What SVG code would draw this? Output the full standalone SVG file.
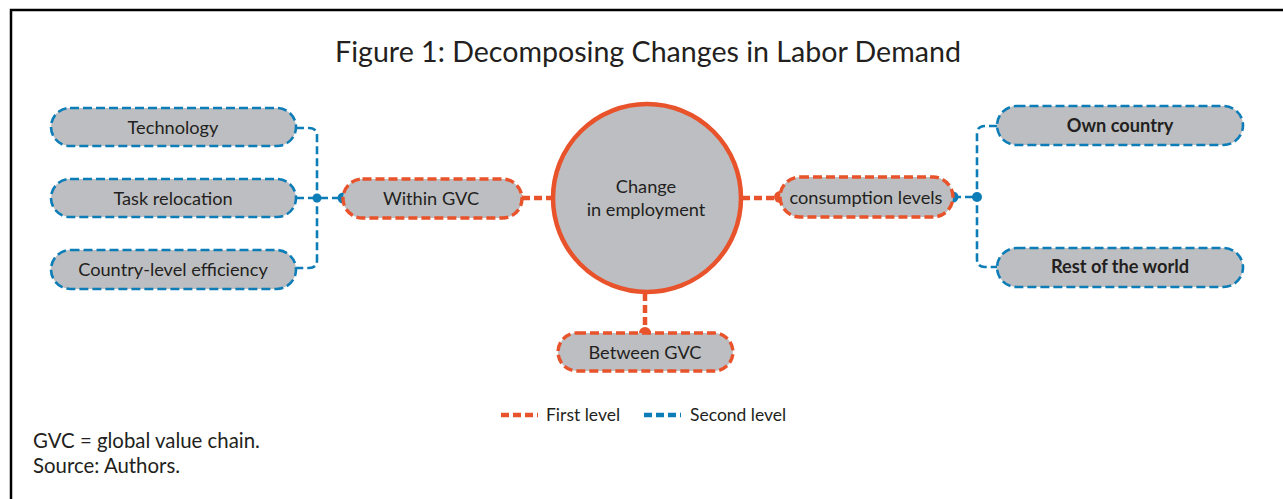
<svg xmlns="http://www.w3.org/2000/svg" width="1283" height="499" viewBox="0 0 1283 499">
<style>
text{font-family:Lato,"Open Sans","Liberation Sans",sans-serif;fill:#231F20}
.pill{fill:#BDBEC1;stroke-dasharray:9 4}
.o{stroke:#E8532B;stroke-width:3.4}
.b{stroke:#0D7DB8;stroke-width:2.6}
.lbl{font-size:18.2px;text-anchor:middle}
.bold{font-weight:bold}
.con{fill:none;stroke-dasharray:8 4}
.oc{stroke:#E8532B;stroke-width:4.5}
.bc{stroke:#0D7DB8;stroke-width:2.6}
.od{fill:#E8532B}
.bd{fill:#0D7DB8}
</style>
<rect width="1283" height="499" fill="#fff"/>
<path d="M11 499 V10 H1283" fill="none" stroke="#000" stroke-width="2.5"/>
<text x="648" y="62" font-size="28.6" text-anchor="middle">Figure 1: Decomposing Changes in Labor Demand</text>

<g id="connectors">
<path class="con bc" d="M296 128 H309 Q317 128 317 136 V260 Q317 268 309 268 H296"/>
<path class="con bc" d="M296 198 H343"/>
<path class="con oc" d="M522 198 H552"/>
<path class="con oc" d="M742 198 H780"/>
<path class="con bc" d="M953 197 H977"/>
<path class="con bc" d="M997 126 H985 Q977 126 977 134 V259 Q977 267 985 267 H997"/>
<path class="con oc" d="M645 293 V333"/>
<circle class="bd" cx="317" cy="198" r="4.5"/>
<circle class="bd" cx="343" cy="198" r="5.5"/>
<circle class="od" cx="517" cy="198" r="6"/>
<circle class="od" cx="780" cy="197" r="6"/>
<circle class="bd" cx="953" cy="197" r="5.5"/>
<circle class="bd" cx="977" cy="197" r="5"/>
<circle class="od" cx="645" cy="333" r="6"/>
</g>

<g id="center">
<circle cx="647" cy="198" r="94" fill="#BDBEC1" stroke="#E8532B" stroke-width="4.5"/>
<text class="lbl" x="646" y="193">Change</text>
<text class="lbl" x="646" y="216">in employment</text>
</g>

<g id="technology">
<rect class="pill b" x="51" y="108" width="245" height="38" rx="19"/>
<text class="lbl" x="173" y="134">Technology</text>
</g>
<g id="task-relocation">
<rect class="pill b" x="51" y="179" width="245" height="38" rx="19"/>
<text class="lbl" x="173" y="205">Task relocation</text>
</g>
<g id="country-level-efficiency">
<rect class="pill b" x="51" y="250" width="245" height="39" rx="19.5"/>
<text class="lbl" x="173" y="276">Country-level efficiency</text>
</g>

<g id="within-gvc">
<rect class="pill o" x="343" y="179" width="179" height="39" rx="19.5"/>
<text class="lbl" x="431" y="205">Within GVC</text>
</g>

<g id="consumption-levels">
<rect class="pill o" x="780" y="177" width="173" height="40" rx="20"/>
<text class="lbl" x="866" y="204">consumption levels</text>
</g>

<g id="own-country">
<rect class="pill b" x="997" y="106" width="246" height="39" rx="19.5"/>
<text class="lbl bold" x="1120" y="132">Own country</text>
</g>
<g id="rest-of-world">
<rect class="pill b" x="997" y="248" width="246" height="39" rx="19.5"/>
<text class="lbl bold" x="1120" y="273">Rest of the world</text>
</g>

<g id="between-gvc">
<rect class="pill o" x="558" y="333" width="175" height="38" rx="19"/>
<text class="lbl" x="645" y="359">Between GVC</text>
</g>

<g id="legend">
<path class="con oc" d="M501 415 H538"/>
<text x="546" y="421" font-size="17.5">First level</text>
<path class="con bc" d="M644 415 H681" style="stroke-width:4.5"/>
<text x="690" y="421" font-size="17.5">Second level</text>
</g>

<text x="33" y="448" font-size="20.4">GVC = global value chain.</text>
<text x="33" y="473" font-size="20.4">Source: Authors.</text>
</svg>
